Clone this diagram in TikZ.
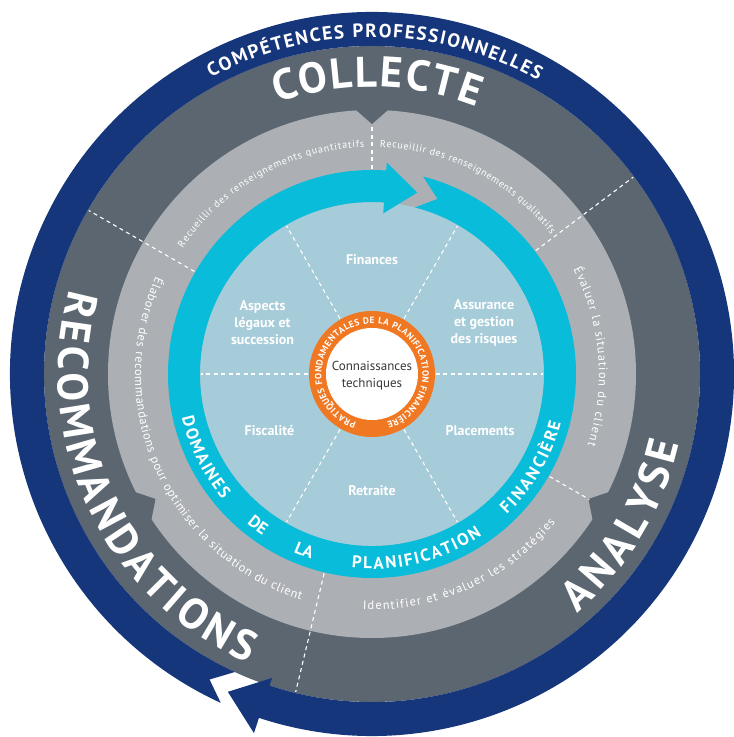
\documentclass[tikz,border=0pt]{standalone}
\usepackage{fontspec}
\setmainfont{PT Sans}
\usetikzlibrary{decorations.text}
\definecolor{dblue}{HTML}{16367C}
\definecolor{dgray}{HTML}{5B6670}
\definecolor{lgray}{HTML}{ACB0B5}
\definecolor{cyanr}{HTML}{08BCDA}
\definecolor{lblue}{HTML}{A6CCD9}
\definecolor{orng}{HTML}{F07823}
\definecolor{ctext}{HTML}{383838}
\tikzset{
  wdash/.style={white, line width=1.1pt, dash pattern=on 4pt off 3.5pt},
  lab/.style={text=white, font=\fontsize{14}{17}\selectfont\bfseries, align=center, inner sep=0pt},
  fittext/.style n args={2}{decorate, decoration={text along path, text color=white, text align=fit to path, text={|#1|#2}}},
  centext/.style n args={2}{decorate, decoration={text along path, text color=white, text align=center, text={|#1|#2}}},
}
\begin{document}
\begin{tikzpicture}[x=1pt,y=1pt]
\useasboundingbox (-372,-363) rectangle (362,374);
% rings
\fill[dgray] (0,0) circle[radius=328];
\fill[lgray] (0,0) circle[radius=264];
\foreach \a in {90,-30,210}
  \fill[dgray] ({\a+3.8}:266) -- (\a:250) -- ({\a-3.8}:266) -- cycle;
\foreach \a in {150,37,-103.5}
  \draw[wdash] (\a:205) -- (\a:327);
\draw[wdash] (90:205) -- (90:249);
\draw[wdash] (-30:205) -- (-30:251);
\fill[lblue] (0,0) circle[radius=172];
\foreach \a in {0,60,...,300}
  \draw[wdash] (\a:64) -- (\a:171);
% cyan arrow ring
\fill[cyanr] (86:204) arc[start angle=86, end angle=435.5, radius=204]
  -- (69.5:187) -- (75.5:172) arc[start angle=435.5, end angle=86, radius=172]
  -- (86:161) -- (76:187) -- (86:212) -- cycle;
% dark blue arrow ring
\fill[dblue] (245.3:362) arc[start angle=245.3, end angle=-108.2, radius=362]
  -- (-108.2:378) -- (-114.4:349) -- (-108.2:320) -- (-108.2:328)
  arc[start angle=-108.2, end angle=245.3, radius=328] -- (242:346) -- cycle;
% centre
\fill[orng] (0,0) circle[radius=63];
\fill[white] (0,0) circle[radius=46];
\node[font=\fontsize{13}{17}\selectfont, text=ctext, align=center, inner sep=0pt] (conn) at (0,-2) {Connaissances\\techniques};
% sectors
\node[lab] (fin) at (0,114) {Finances};
\node[lab] (ass) at (112,51) {Assurance\\et gestion\\des risques};
\node[lab] (pla) at (108,-57) {Placements};
\node[lab] (ret) at (0,-117) {Retraite};
\node[lab] (fis) at (-102.5,-57) {Fiscalité};
\node[lab] (asp) at (-109.5,51) {Aspects\\légaux et\\succession};
% orange ring text
\path[fittext={\fontsize{9.2}{9.2}\selectfont\bfseries}{PRATIQUES FONDAMENTALES DE LA PLANIFICATION FINANCIÈRE}]
  (252:50.5) arc[start angle=252, end angle=-73, radius=50.5];
% cyan ring text
\path[fittext={\fontsize{17}{17}\selectfont\bfseries}{DOMAINES}]
  (193:195) arc[start angle=193, end angle=220, radius=195];
\path[centext={\fontsize{17}{17}\selectfont\bfseries}{DE}]
  (226:195) arc[start angle=226, end angle=240, radius=195];
\path[centext={\fontsize{17}{17}\selectfont\bfseries}{LA}]
  (242:195) arc[start angle=242, end angle=256, radius=195];
\path[fittext={\fontsize{17}{17}\selectfont\bfseries}{PLANIFICATION}]
  (264:195) arc[start angle=264, end angle=304.3, radius=195];
\path[fittext={\fontsize{17}{17}\selectfont\bfseries}{FINANCIÈRE}]
  (313.8:195) arc[start angle=313.8, end angle=345.6, radius=195];
% light gray ring texts
\path[fittext={\fontsize{10}{10}\selectfont}{Recueillir des renseignements quantitatifs}]
  (146.4:227) arc[start angle=146.4, end angle=92, radius=227];
\path[fittext={\fontsize{10}{10}\selectfont}{Recueillir des renseignements qualitatifs}]
  (88:227) arc[start angle=88, end angle=38, radius=227];
\path[fittext={\fontsize{12.3}{12.3}\selectfont}{Évaluer la situation du client}]
  (27.5:227) arc[start angle=27.5, end angle=-18.2, radius=227];
\path[fittext={\fontsize{12.3}{12.3}\selectfont}{Identifier et évaluer les stratégies}]
  (267.8:236) arc[start angle=267.8, end angle=321, radius=236];
\path[fittext={\fontsize{12.3}{12.3}\selectfont}{Élaborer des recommandations pour optimiser la situation du client}]
  (155.7:237) arc[start angle=155.7, end angle=252.5, radius=237];
% dark gray ring big texts
\path[fittext={\fontsize{43}{43}\selectfont\bfseries}{COLLECTE}]
  (109.3:287) arc[start angle=109.3, end angle=68.7, radius=287];
\path[fittext={\fontsize{43}{43}\selectfont\bfseries}{ANALYSE}]
  (-49.3:315) arc[start angle=-49.3, end angle=-12.8, radius=315];
\path[fittext={\fontsize{43}{43}\selectfont\bfseries}{RECOMMANDATIONS}]
  (164.4:314) arc[start angle=164.4, end angle=246.8, radius=314];
% outer ring text
\path[fittext={\fontsize{19}{19}\selectfont\bfseries}{COMPÉTENCES PROFESSIONNELLES}]
  (118.5:337) arc[start angle=118.5, end angle=60.5, radius=337];
\end{tikzpicture}
\end{document}
